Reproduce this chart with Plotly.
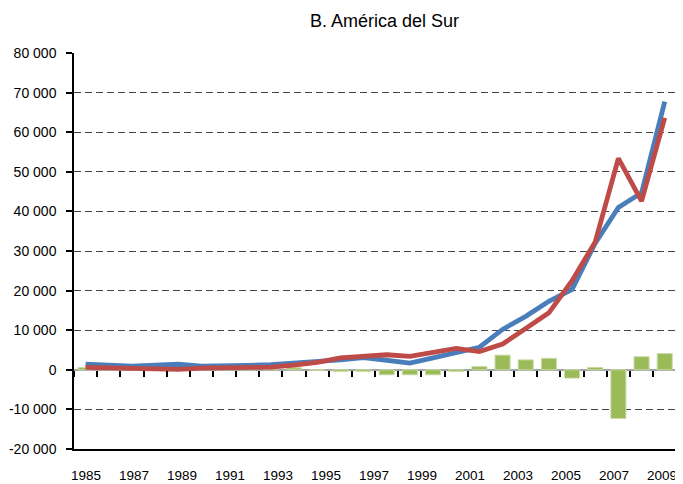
import plotly.graph_objects as go

# 26 data points (category index), labels are placed on a separate year axis
points = list(range(26))
serie_azul = [1400, 1000, 900, 1200, 1400, 900, 900, 1100, 1300, 1600, 2000, 2500, 3100,
              2500, 1700, 3000, 4500, 5700, 10200, 13500, 17300, 20300, 32000, 41000, 44700, 67700]
serie_roja = [600, 500, 500, 200, 100, 400, 500, 600, 700, 1200, 1900, 3000, 3500,
              3800, 3400, 4400, 5400, 4600, 6500, 10400, 14400, 22500, 32300, 53400, 42600, 63600]
diferencia = [600, 400, 300, 900, 1100, 300, 300, 600, 600, 500, -100, -400, -400,
              -1250, -1250, -1250, -400, 800, 3700, 2500, 2900, -2100, 600, -12300, 3300, 4100]
label_years = list(range(1985, 2010, 2))
y_ticks = list(range(-20000, 80001, 10000))
y_text = [f"{v:,}".replace(",", " ") for v in y_ticks]

FONT = "Liberation Sans, Arial, Helvetica, sans-serif"

fig = go.Figure()
fig.add_trace(go.Bar(x=points, y=diferencia, width=0.65,
                     marker=dict(color="#9BBB59", line=dict(color="#C9DBA6", width=1)),
                     hoverinfo="skip"))
fig.add_trace(go.Scatter(x=points, y=serie_azul, mode="lines",
                         line=dict(color="#4A7EBB", width=4.8), hoverinfo="skip"))
fig.add_trace(go.Scatter(x=points, y=serie_roja, mode="lines",
                         line=dict(color="#BE4B48", width=4.8), hoverinfo="skip"))
# invisible carrier so the year-label axis is drawn
fig.add_trace(go.Scatter(x=label_years, y=[None] * len(label_years), xaxis="x2",
                         mode="lines", hoverinfo="skip", showlegend=False))

# page body has an 8px margin -> figure is placed at (8, 8)
W, H = 675, 476
L, R, T, B = 63, 1, 45, 29
pw = W - L - R
ph = H - T - B
step = 23.28
lab_step = 24.12

fig.update_layout(
    width=W, height=H,
    margin=dict(l=L, r=R, t=T, b=B, pad=0),
    paper_bgcolor="white", plot_bgcolor="white",
    showlegend=False,
    font=dict(family=FONT, size=13.5, color="black"),
    xaxis=dict(range=[-0.5, -0.5 + pw / step],
               tickmode="array", tickvals=[k - 0.5 for k in range(27)],
               showticklabels=False, ticks="outside", ticklen=6, tickwidth=1.5,
               tickcolor="black", showgrid=False, zeroline=False, showline=False,
               anchor="free", position=0.2),
    xaxis2=dict(overlaying="x", anchor="y", side="bottom",
                range=[1985 - 12 / lab_step, 1985 + (pw - 12) / lab_step],
                tickmode="array", tickvals=label_years,
                ticktext=[str(y) for y in label_years],
                ticks="outside", ticklen=13, tickcolor="rgba(0,0,0,0)",
                showline=True, linecolor="black", linewidth=1.5,
                showgrid=False, zeroline=False,
                tickfont=dict(family=FONT, size=13.5, color="black")),
    yaxis=dict(range=[-20000, 80000], tickmode="array", tickvals=y_ticks, ticktext=y_text,
               showline=True, linecolor="black", linewidth=1.5,
               ticks="outside", ticklen=6, tickwidth=1.5, tickcolor="black",
               ticklabelstandoff=7,
               showgrid=True, gridcolor="#444444", gridwidth=1, griddash="7px,4px",
               zeroline=True, zerolinecolor="#A6A6A6", zerolinewidth=1.5,
               tickfont=dict(family=FONT, size=14, color="black")),
    annotations=[dict(text="B. América del Sur", xref="paper", yref="paper",
                      x=(383 - 8 - L) / pw, y=1 + (T - 13) / ph,
                      xanchor="center", yanchor="middle", showarrow=False,
                      font=dict(family=FONT, size=18, color="black"))],
)

fig.write_html("out.html")
